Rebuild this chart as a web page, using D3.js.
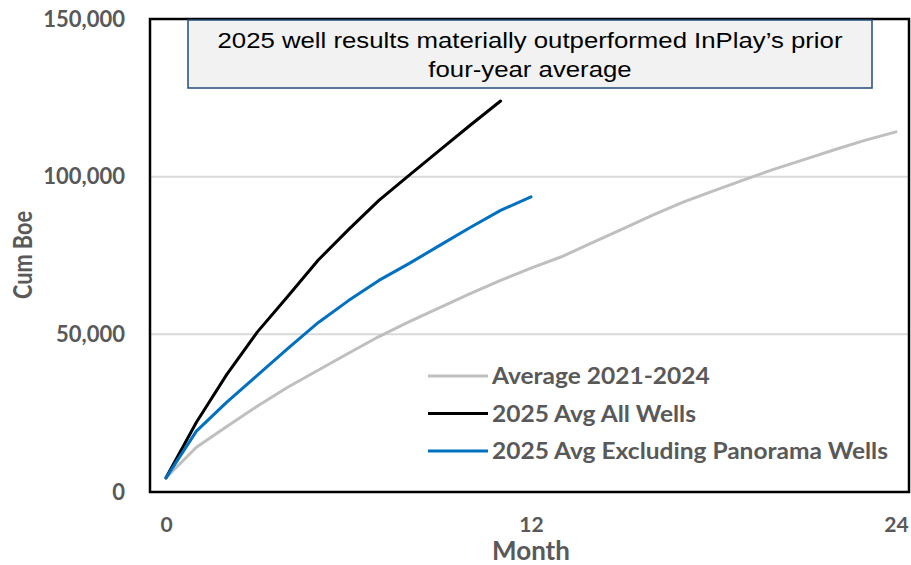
<!DOCTYPE html>
<html>
<head>
<meta charset="utf-8">
<script src="https://cdn.jsdelivr.net/npm/d3@7"></script>
<style>
  body { margin: 0; background: #fff; }
  svg { display: block; }
</style>
</head>
<body>
<svg id="chart" width="911" height="565"></svg>
<script>
// data, cum boe by month
const avgMonths = d3.range(0, 25);
const avg2021_2024 = [4500, 14200, 20800, 27200, 33200, 38600, 44000, 49300, 54000, 58500, 62900, 67100,
  71000, 74600, 79000, 83400, 87800, 91900, 95500, 99000, 102400, 105500, 108600, 111600, 114200];

const allMonths = d3.range(0, 12);
const avg2025All = [4500, 22100, 37300, 50700, 62000, 73500, 83200, 92500, 100500, 108400, 116300, 124000];

const exclMonths = d3.range(0, 13);
const avg2025Excl = [4500, 19300, 28500, 37000, 45500, 53700, 60700, 67100, 72500, 78200, 83900, 89300, 93600];

const yTicks = [0, 50000, 100000, 150000];
const xTicks = [0, 12, 24];
const gridTicks = [50000, 100000];

const seriesNames = ["Average 2021-2024", "2025 Avg All Wells", "2025 Avg Excluding Panorama Wells"];
const seriesColors = ["#bfbfbf", "#000000", "#0070c0"];
const titleLines = ["2025 well results materially outperformed InPlay\u2019s prior", "four-year average"];

const svg = d3.select("#chart");
const plot = {left: 150, right: 909, top: 19, bottom: 492};
const labelFont = "Lato, 'Open Sans', sans-serif";
const labelColor = "#595959";

// stretch a group of texts so the first one is `width` wide (the original fonts run wider)
function stretch(sel, width) {
  let k = width / sel.node().getComputedTextLength();
  sel.each(function() {
    d3.select(this)
      .attr("textLength", this.getComputedTextLength() * k)
      .attr("lengthAdjust", "spacingAndGlyphs");
  });
}

const x = d3.scaleLinear().domain([0, 24]).range([166, 896]);
const y = d3.scaleLinear().domain([0, 150000]).range([plot.bottom, plot.top]);

// gridlines
svg.append("g")
  .selectAll("line")
  .data(gridTicks)
  .enter()
  .append("line")
  .attr("x1", plot.left)
  .attr("x2", plot.right)
  .attr("y1", d => y(d))
  .attr("y2", d => y(d))
  .attr("stroke", "#d9d9d9")
  .attr("stroke-width", 2);

// y axis labels
const yAxis = svg.append("g")
  .attr("transform", "translate(" + (plot.left - 25) + ",0)")
  .call(d3.axisLeft(y).tickValues(yTicks).tickSize(0).tickFormat(d3.format(",")));
yAxis.select(".domain").remove();
yAxis.selectAll("text")
  .attr("x", 0)
  .attr("fill", labelColor)
  .style("font-family", labelFont)
  .style("font-weight", "bold")
  .style("font-size", "22px");

// x axis labels
const xAxis = svg.append("g")
  .attr("transform", "translate(0," + (plot.bottom + 22) + ")")
  .call(d3.axisBottom(x).tickValues(xTicks).tickSize(0));
xAxis.select(".domain").remove();
xAxis.selectAll("text")
  .attr("fill", labelColor)
  .style("font-family", labelFont)
  .style("font-weight", "bold")
  .style("font-size", "21px");

// axis titles
const yTitle = svg.append("text")
  .attr("transform", "translate(32," + 255 + ") rotate(-90)")
  .attr("text-anchor", "middle")
  .attr("fill", labelColor)
  .style("font-family", labelFont)
  .style("font-weight", "bold")
  .style("font-size", "27px")
  .text("Cum Boe");
stretch(yTitle, 88);

svg.append("text")
  .attr("x", 531)
  .attr("y", 560)
  .attr("text-anchor", "middle")
  .attr("fill", labelColor)
  .style("font-family", labelFont)
  .style("font-weight", "bold")
  .style("font-size", "26px")
  .text("Month");

// lines
const line = d3.line()
  .x(d => x(d[0]))
  .y(d => y(d[1]));

const series = [
  d3.zip(avgMonths, avg2021_2024),
  d3.zip(allMonths, avg2025All),
  d3.zip(exclMonths, avg2025Excl)
];

svg.append("g")
  .selectAll("path")
  .data(series)
  .enter()
  .append("path")
  .attr("d", line)
  .attr("fill", "none")
  .attr("stroke", (d, i) => seriesColors[i])
  .attr("stroke-width", 3)
  .attr("stroke-linecap", "round")
  .attr("stroke-linejoin", "round");

// frame
svg.append("rect")
  .attr("x", plot.left)
  .attr("y", plot.top)
  .attr("width", plot.right - plot.left)
  .attr("height", plot.bottom - plot.top)
  .attr("fill", "none")
  .attr("stroke", "#000")
  .attr("stroke-width", 2.5);

// legend
const legend = svg.append("g")
  .selectAll("g")
  .data(seriesNames)
  .enter()
  .append("g")
  .attr("transform", (d, i) => "translate(428," + (376 + i * 37.5) + ")");

legend.append("line")
  .attr("x1", 0)
  .attr("x2", 60)
  .attr("stroke", (d, i) => seriesColors[i])
  .attr("stroke-width", 3);

const legendText = legend.append("text")
  .attr("x", 64)
  .attr("y", 8)
  .attr("fill", labelColor)
  .style("font-family", labelFont)
  .style("font-weight", "bold")
  .style("font-size", "23px")
  .text(d => d);
stretch(d3.selectAll(legendText.nodes().slice().reverse()), 396);

// title box
svg.append("rect")
  .attr("x", 188)
  .attr("y", 20)
  .attr("width", 684)
  .attr("height", 68)
  .attr("fill", "#f2f2f2")
  .attr("stroke", "#1f4e79")
  .attr("stroke-width", 1.5);

const titleText = svg.append("g")
  .selectAll("text")
  .data(titleLines)
  .enter()
  .append("text")
  .attr("x", 530)
  .attr("y", (d, i) => 48 + i * 29)
  .attr("text-anchor", "middle")
  .attr("fill", "#000")
  .style("font-family", "'Liberation Sans', Arial, sans-serif")
  .style("font-size", "22px")
  .text(d => d);
stretch(titleText, 625);
</script>
</body>
</html>
